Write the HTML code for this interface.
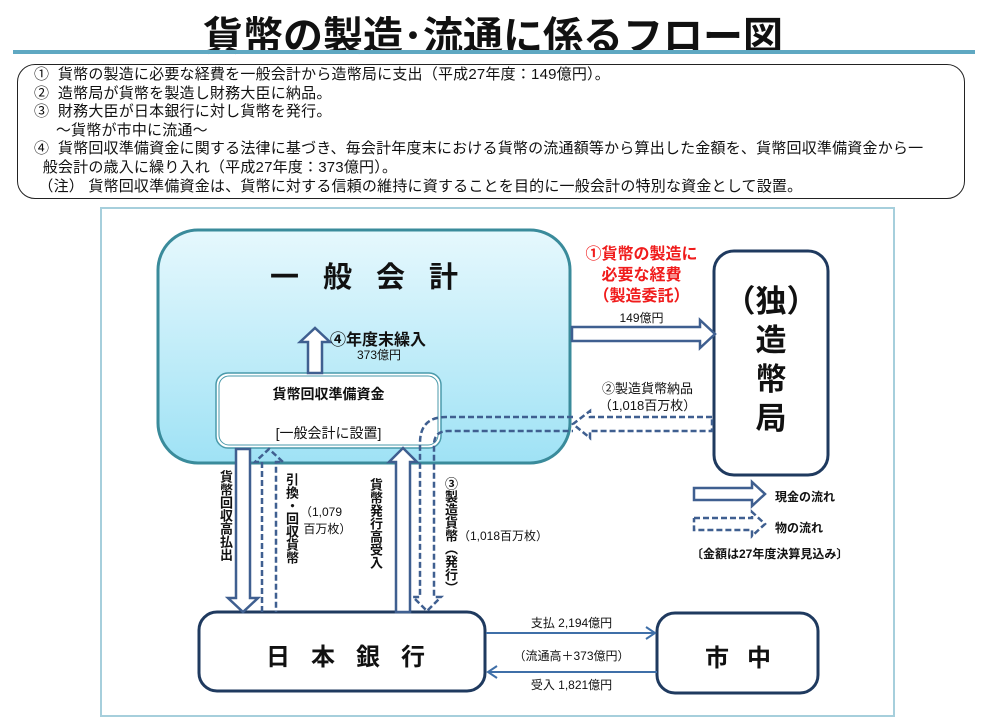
<!DOCTYPE html>
<html><head><meta charset="utf-8">
<style>
body{margin:0;width:986px;height:725px;background:#fff;position:relative;overflow:hidden;font-family:"Liberation Sans","Noto Sans CJK JP",sans-serif;color:#111}
.t{position:absolute;white-space:nowrap}
.v{position:absolute;writing-mode:vertical-rl;white-space:nowrap;font-size:13px;font-weight:bold;line-height:14px}
</style></head><body>
<div class="t" style="left:0;width:986px;text-align:center;top:4px;font-size:40px;font-weight:bold">貨幣の製造･流通に係るフロー図</div>
<div style="position:absolute;left:13px;top:50px;width:962px;height:4px;background:#5fa8c2"></div>
<div style="position:absolute;left:17px;top:64px;width:946px;height:133px;border:1.5px solid #222;border-radius:18px"></div>
<div class="t" style="left:34px;top:66px;font-size:15px;line-height:18.6px;letter-spacing:0.2px">
① &nbsp;貨幣の製造に必要な経費を一般会計から造幣局に支出（平成27年度：149億円）。<br>
② &nbsp;造幣局が貨幣を製造し財務大臣に納品。<br>
③ &nbsp;財務大臣が日本銀行に対し貨幣を発行。<br>
&nbsp;&nbsp;&nbsp;&nbsp;&nbsp;～貨幣が市中に流通～<br>
④ &nbsp;貨幣回収準備資金に関する法律に基づき、毎会計年度末における貨幣の流通額等から算出した金額を、貨幣回収準備資金から一<br>
&nbsp;&nbsp;般会計の歳入に繰り入れ（平成27年度：373億円）。<br>
&nbsp;（注） 貨幣回収準備資金は、貨幣に対する信頼の維持に資することを目的に一般会計の特別な資金として設置。</div>

<svg style="position:absolute;left:0;top:0" width="986" height="725">
<defs><linearGradient id="g" x1="0" y1="0" x2="0" y2="1"><stop offset="0" stop-color="#e6f8fd"/><stop offset="1" stop-color="#9fe2f5"/></linearGradient></defs>
<rect x="101" y="208" width="793" height="508" fill="none" stroke="#a6cfdc" stroke-width="2"/>
<rect x="158" y="230" width="412" height="233" rx="40" fill="url(#g)" stroke="#3a8b9b" stroke-width="3"/>
<rect x="216" y="373" width="225" height="75" rx="12" fill="#fff" stroke="#4a9aab" stroke-width="1.5"/>
<rect x="219" y="376" width="219" height="69" rx="10" fill="none" stroke="#4a9aab" stroke-width="1"/>
<rect x="714" y="251" width="114" height="224" rx="20" fill="#fff" stroke="#1f3a5f" stroke-width="3"/>
<rect x="199" y="612" width="286" height="79" rx="18" fill="#fff" stroke="#1f3a5f" stroke-width="3"/>
<rect x="657" y="613" width="161" height="80" rx="18" fill="#fff" stroke="#1f3a5f" stroke-width="3"/>
<g fill="#fff" stroke="#3f5f90" stroke-width="2.5">
<polygon points="308,373 308,342 300,342 315,328 330,342 322,342 322,373"/>
<polygon points="572,327 700,327 700,320 715,334 700,348 700,341 572,341"/>
<polygon points="236,449 236,598 228,598 243,612 258,598 250,598 250,449"/>
<polygon points="396,612 396,462 389,462 403,448 417,462 410,462 410,612"/>
<polygon points="694,488 752,488 752,482 765,494 752,506 752,500 694,500"/>
</g>
<g fill="none" stroke="#3f5f90" stroke-width="2.5" stroke-dasharray="6,3">
<polyline points="262,612 262,462 255,462 269,449 283,462 276,462 276,612"/>
<polyline points="712,417 590,417 590,411 573,424 590,438 590,431 712,431 712,417"/>
<path d="M573,417 L446,417 Q420,417 420,443 L420,597 L413,597 L427,611 L441,597 L434,597 L434,445 Q434,431 448,431 L573,431"/>
<polyline points="694,518 752,518 752,512 765,524 752,536 752,530 694,530 694,518"/>
</g>
<g stroke="#3f6fa8" stroke-width="2" fill="none">
<line x1="486" y1="633" x2="654" y2="633"/><polyline points="646,627 655,633 646,639"/>
<line x1="657" y1="672" x2="489" y2="672"/><polyline points="497,666 488,672 497,678"/>
</g>
</svg>

<div class="t" style="left:270px;top:254px;font-size:29px;font-weight:bold;letter-spacing:24px">一般会計</div>
<div class="t" style="left:330px;top:326px;font-size:16px;font-weight:bold">④年度末繰入</div>
<div class="t" style="left:357px;top:346px;font-size:12px">373億円</div>
<div class="t" style="left:216px;width:225px;text-align:center;top:384px;font-size:14px;font-weight:bold">貨幣回収準備資金</div>
<div class="t" style="left:216px;width:225px;text-align:center;top:423px;font-size:14px">[一般会計に設置]</div>
<div class="t" style="left:574px;width:135px;text-align:center;top:244px;font-size:16px;font-weight:bold;color:#f01c1c;line-height:21px">①貨幣の製造に<br>必要な経費<br>（製造委託）</div>
<div class="t" style="left:574px;width:135px;text-align:center;top:309px;font-size:12px">149億円</div>
<div class="t" style="left:714px;width:114px;text-align:center;top:282px;font-size:31px;font-weight:bold;line-height:39px">（独）<br>造<br>幣<br>局</div>
<div class="t" style="left:580px;width:135px;text-align:center;top:380px;font-size:13px;line-height:17px">②製造貨幣納品<br>（1,018百万枚）</div>
<div class="v" style="left:218px;top:470px">貨幣回収高払出</div>
<div class="v" style="left:284px;top:473px">引換・回収貨幣</div>
<div class="t" style="left:300px;top:504px;font-size:12px;line-height:17px">（1,079<br>&nbsp;百万枚）</div>
<div class="v" style="left:368px;top:478px">貨幣発行高受入</div>
<div class="v" style="left:443px;top:477px">③製造貨幣（発行）</div>
<div class="t" style="left:458px;top:527px;font-size:12px">（1,018百万枚）</div>
<div class="t" style="left:775px;top:488px;font-size:12px;font-weight:bold">現金の流れ</div>
<div class="t" style="left:775px;top:519px;font-size:12px;font-weight:bold">物の流れ</div>
<div class="t" style="left:691px;top:545px;font-size:12px;font-weight:bold">〔金額は27年度決算見込み〕</div>
<div class="t" style="left:266px;top:637px;font-size:24px;font-weight:bold;letter-spacing:21px">日本銀行</div>
<div class="t" style="left:705px;top:638px;font-size:24px;font-weight:bold;letter-spacing:18px">市中</div>
<div class="t" style="left:486px;width:171px;text-align:center;top:614px;font-size:12px">支払 2,194億円</div>
<div class="t" style="left:486px;width:171px;text-align:center;top:647px;font-size:12px">（流通高＋373億円）</div>
<div class="t" style="left:486px;width:171px;text-align:center;top:676px;font-size:12px">受入 1,821億円</div>
</body></html>
